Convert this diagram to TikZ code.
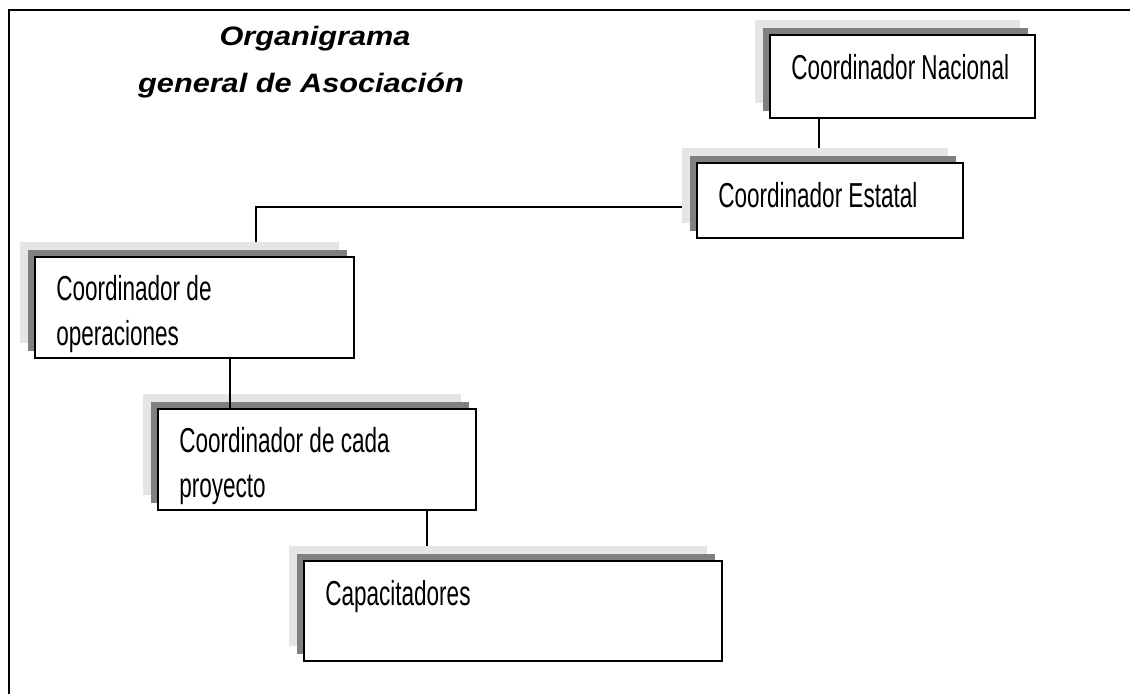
\documentclass[tikz,border=0pt]{standalone}
\usepackage{fontspec}
\setmainfont{Liberation Sans}
\newfontfamily\cajafont{Liberation Sans}[FakeStretch=0.65]
\newfontfamily\titulofont{Liberation Sans}[UprightFont={* Bold Italic},FakeStretch=1.15]
\usetikzlibrary{shadows,backgrounds}

\begin{document}
\begin{tikzpicture}[
		x=0.75pt,y=-0.75pt,
		caja/.style={draw,line width=1.5pt,fill=white,anchor=north west,inner sep=0pt,
			general shadow={shadow xshift=-11.25pt,shadow yshift=11.25pt,fill=black!10,draw=none},
			general shadow={shadow xshift=-5.6pt,shadow yshift=5.6pt,fill=black!50,draw=none}},
		texto/.style={anchor=north west,inner sep=0pt,align=left,
			font=\cajafont\fontsize{26pt}{33.75pt}\selectfont},
		titulo/.style={anchor=base,font=\titulofont\fontsize{20pt}{24pt}\selectfont},
		linea/.style={line width=1.2pt}]
		% marco
		\useasboundingbox (0,0) rectangle (1130,694);
		\draw[line width=1.5pt] (1130,10) -| (9,694);
		
		% titulo
		\node[titulo] (titulo1) at (315,45) {Organigrama};
		\node[titulo] (titulo2) at (301,92) {general de Asociación};
		
		% cajas
		\node[caja,minimum width=198.75pt,minimum height=62.25pt] (nacional) at (769,34) {};
		\node[caja,minimum width=199.5pt,minimum height=56.25pt] (estatal) at (696,162) {};
		\node[caja,minimum width=239.25pt,minimum height=75.75pt] (operaciones) at (34,256) {};
		\node[caja,minimum width=238.5pt,minimum height=75.75pt] (proyecto) at (157,408) {};
		\node[caja,minimum width=313.5pt,minimum height=75pt] (capacitadores) at (303,560) {};
		
		\node[texto] (nacional-t) at ([shift={(22,20)}]nacional.north west) {Coordinador Nacional};
		\node[texto] (estatal-t) at ([shift={(22,20)}]estatal.north west) {Coordinador Estatal};
		\node[texto] (operaciones-t) at ([shift={(22,19)}]operaciones.north west) {Coordinador de\\operaciones};
		\node[texto] (proyecto-t) at ([shift={(22,19)}]proyecto.north west) {Coordinador de cada\\proyecto};
		\node[texto] (capacitadores-t) at ([shift={(22,20)}]capacitadores.north west) {Capacitadores};
		
		% lineas
		\begin{scope}[on background layer]
			\draw[linea] ([xshift=37.5pt]nacional.south west) coordinate (c1) -- (c1 |- estatal.north);
			\draw[linea] ([yshift=-4.9pt]estatal.west) -| ([xshift=166.5pt]operaciones.north west);
			\draw[linea] ([xshift=202.5pt]proyecto.south west) coordinate (c4) -- (c4 |- capacitadores.north);
		\end{scope}
		\draw[linea] ([xshift=147pt]operaciones.south west) coordinate (c3) -- (c3 |- proyecto.north);
		
\end{tikzpicture}
\end{document}
